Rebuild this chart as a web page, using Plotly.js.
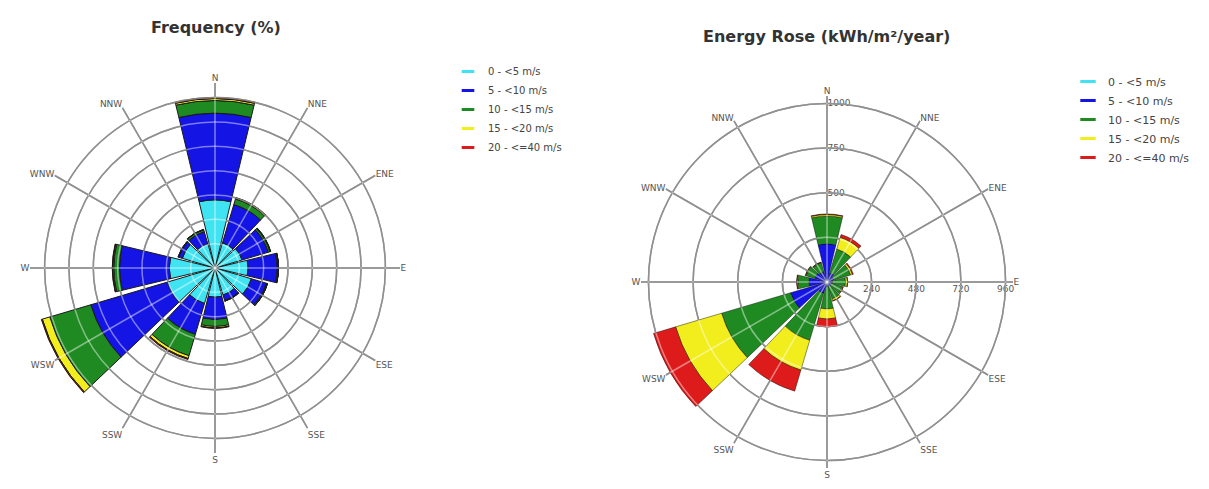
<!DOCTYPE html>
<html><head><meta charset="utf-8">
<script src="https://cdn.plot.ly/plotly-3.0.1.min.js"></script>
<style>html,body{margin:0;padding:0;background:#fff}#chart{width:1209px;height:489px}</style>
</head><body><div id="chart"></div>
<script>
const directions = ['N','NNE','ENE','E','ESE','SSE','S','SSW','WSW','W','WNW','NNW'];
const speedBins = ['0 - <5 m/s','5 - <10 m/s','10 - <15 m/s','15 - <20 m/s','20 - <=40 m/s'];

// Frequency (%) per direction and speed bin
const freq_0_5   = [7.0, 2.7, 2.9, 3.4, 3.9, 2.9, 3.0, 3.8, 5.1, 4.7, 3.5, 2.6];
const freq_5_10  = [8.9, 4.1, 2.8, 3.0, 1.6, 0.6, 2.3, 3.3, 8.2, 5.1, 0.4, 1.3];
const freq_10_15 = [1.3, 0.6, 0.2, 0.1, 0.1, 0.05, 0.7, 2.3, 4.4, 0.6, 0.05, 0.2];
const freq_15_20 = [0.2, 0.1, 0.05, 0.02, 0.02, 0.01, 0.15, 0.3, 0.8, 0.1, 0.01, 0.03];
const freq_20_40 = [0.1, 0.05, 0.02, 0.01, 0.01, 0.0, 0.05, 0.1, 0.1, 0.05, 0.0, 0.01];

// Energy rose (kWh/m2/year) per direction and speed bin
const energy_0_5   = [20, 10, 8, 5, 5, 5, 16, 16, 16, 10, 8, 8];
const energy_5_10  = [185, 40, 30, 25, 20, 20, 11, 48, 188, 87, 60, 50];
const energy_10_15 = [150, 135, 95, 70, 60, 70, 118, 263, 387, 60, 50, 50];
const energy_15_20 = [8, 65, 10, 10, 5, 10, 54, 167, 258, 5, 3, 3];
const energy_20_40 = [3, 16, 5, 2, 2, 3, 43, 118, 124, 2, 1, 1];

// Ring / tick labels
const freqRings = [2.5, 5, 7.5, 10, 12.5, 15, 17.5];
const energyRings = [240, 480, 720, 960];
const energyRingLabels = ['240', '480', '720', '960'];
const northRings = [500, 750, 1000];
const northRingLabels = ['500', '750', '1000'];

const binColors = ['#3fe3f2', '#1414e4', '#1f8a22', '#f2ee1e', '#de1b1b'];
const freqSeries = [freq_0_5, freq_5_10, freq_10_15, freq_15_20, freq_20_40];
const energySeries = [energy_0_5, energy_5_10, energy_10_15, energy_15_20, energy_20_40];

const traces = [];
freqSeries.forEach((vals, i) => traces.push({
  type: 'barpolar', r: vals, theta: directions, subplot: 'polar', name: speedBins[i],
  showlegend: false, hoverinfo: 'skip',
  marker: {color: binColors[i], line: {color: '#1a1a1a', width: 1}}
}));
energySeries.forEach((vals, i) => traces.push({
  type: 'barpolar', r: vals, theta: directions, subplot: 'polar2', name: speedBins[i],
  showlegend: false, hoverinfo: 'skip',
  marker: {color: binColors[i], line: {color: 'rgba(0,0,0,0.55)', width: 0.8}}
}));
// legend-only entries (no drawable point)
speedBins.forEach((n, i) => traces.push({
  type: 'scatterpolar', r: [null], theta: [directions[0]], subplot: 'polar', mode: 'markers', name: n, legend: 'legend',
  marker: {symbol: 'line-ew', size: 9, color: binColors[i], line: {color: binColors[i], width: 3}}
}));
speedBins.forEach((n, i) => traces.push({
  type: 'scatterpolar', r: [null], theta: [directions[0]], subplot: 'polar2', mode: 'markers', name: n, legend: 'legend2',
  marker: {symbol: 'line-ew', size: 11, color: binColors[i], line: {color: binColors[i], width: 3}}
}));
// overlays: north-axis labels and the light grid drawn over the bars
traces.push({type: 'scatterpolar', r: [null], theta: [0], subplot: 'polar3', mode: 'markers', showlegend: false});
traces.push({type: 'scatterpolar', r: [null], theta: [directions[0]], subplot: 'polar4', mode: 'markers', showlegend: false});
traces.push({type: 'scatterpolar', r: [null], theta: [directions[0]], subplot: 'polar5', mode: 'markers', showlegend: false});

const W = 1209, H = 489;
const grid = '#353535';
const overGrid = 'rgba(255,255,255,0.45)';
const leftDomain = {x: [30 / W, 400 / W], y: [36 / H, 406 / H]};
const rightDomain = {x: [641 / W, 1013 / W], y: [21 / H, 393 / H]};
const angular = {
  type: 'category', categoryarray: directions, rotation: 90, direction: 'clockwise',
  showline: false, gridcolor: grid, gridwidth: 1.5, ticks: '',
  tickfont: {size: 9, color: '#555', family: 'DejaVu Sans'}
};
const angularOver = {
  type: 'category', categoryarray: directions, rotation: 90, direction: 'clockwise',
  showline: false, gridcolor: overGrid, gridwidth: 1.5, ticks: '', showticklabels: false
};
const layout = {
  width: W, height: H, margin: {l: 0, r: 0, t: 0, b: 0},
  paper_bgcolor: '#ffffff', font: {family: 'DejaVu Sans', color: '#444'},
  polar: {
    domain: leftDomain, bgcolor: 'rgba(0,0,0,0)', barmode: 'stack', bargap: 0.1,
    angularaxis: angular,
    radialaxis: {range: [0, 19], tickvals: freqRings, showticklabels: false, ticks: '',
      showline: false, gridcolor: grid, gridwidth: 1.5}
  },
  polar2: {
    domain: rightDomain, bgcolor: 'rgba(0,0,0,0)', barmode: 'stack', bargap: 0.1,
    angularaxis: angular,
    radialaxis: {range: [0, 1000], tickvals: energyRings, ticktext: energyRingLabels, ticks: '',
      showline: false, gridcolor: grid, gridwidth: 1.5, layer: 'above traces', angle: 0,
      tickfont: {size: 9, color: '#555'}}
  },
  polar3: {
    domain: rightDomain, bgcolor: 'rgba(0,0,0,0)',
    angularaxis: {visible: false},
    radialaxis: {range: [0, 1000 * 250 / 240], tickvals: northRings, ticktext: northRingLabels,
      angle: 90, tickangle: 90, showline: false, showgrid: false, ticks: '', tickfont: {size: 9, color: '#555'}}
  },
  polar4: {
    domain: leftDomain, bgcolor: 'rgba(0,0,0,0)',
    angularaxis: angularOver,
    radialaxis: {range: [0, 19], tickvals: freqRings, showticklabels: false, ticks: '',
      showline: false, gridcolor: overGrid, gridwidth: 1.5}
  },
  polar5: {
    domain: rightDomain, bgcolor: 'rgba(0,0,0,0)',
    angularaxis: angularOver,
    radialaxis: {range: [0, 1000], tickvals: energyRings, showticklabels: false, ticks: '',
      showline: false, gridcolor: overGrid, gridwidth: 1.5}
  },
  legend: {x: 448 / W, y: 1 - 57 / H, xanchor: 'left', yanchor: 'top',
    font: {size: 10, color: '#444'}, bgcolor: 'rgba(0,0,0,0)'},
  legend2: {x: 1068 / W, y: 1 - 67 / H, xanchor: 'left', yanchor: 'top',
    font: {size: 11, color: '#444'}, bgcolor: 'rgba(0,0,0,0)'},
  annotations: [
    {text: '<b>Frequency (%)</b>', x: 216 / W, y: 1 - 27 / H, xref: 'paper', yref: 'paper',
      showarrow: false, xanchor: 'center', yanchor: 'middle', font: {size: 16, color: '#333'}},
    {text: '<b>Energy Rose (kWh/m²/year)</b>', x: 826 / W, y: 1 - 37 / H, xref: 'paper', yref: 'paper',
      showarrow: false, xanchor: 'center', yanchor: 'middle', font: {size: 16, color: '#333'}}
  ],
  showlegend: true
};
Plotly.newPlot('chart', traces, layout, {displayModeBar: false, staticPlot: true});
</script></body></html>
